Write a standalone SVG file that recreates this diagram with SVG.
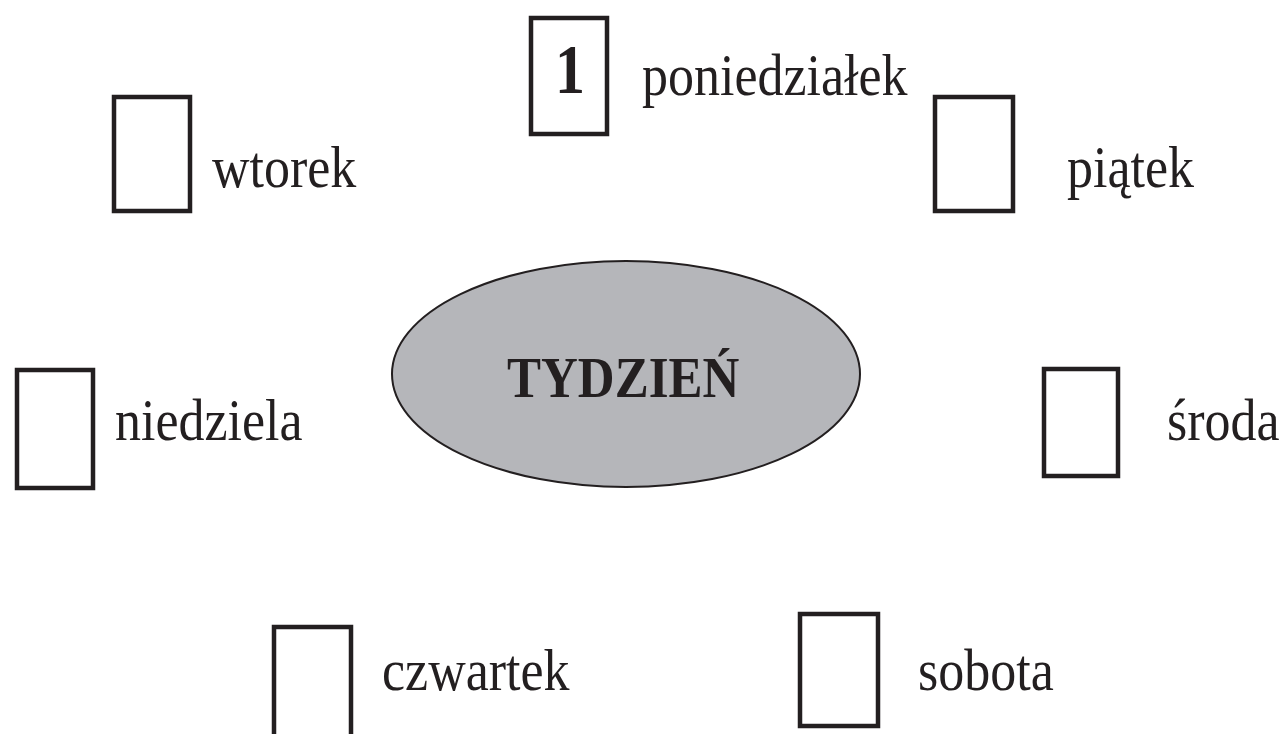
<svg xmlns="http://www.w3.org/2000/svg" width="1287" height="734" viewBox="0 0 1287 734">
<style>
.box{fill:#ffffff;stroke:#231f20;stroke-width:4.5}
.lbl{font-family:"Liberation Serif","Times New Roman",serif;font-size:52px;fill:#231f20}
.num{font-family:"Liberation Serif","Times New Roman",serif;font-size:60px;font-weight:bold;fill:#231f20;text-anchor:middle}
.title{font-family:"Liberation Serif","Times New Roman",serif;font-size:51px;font-weight:bold;fill:#231f20}
</style>
<rect width="1287" height="734" fill="#ffffff"/>
<g id="connectors"></g>
<g id="tydzien">
<ellipse cx="626" cy="374" rx="234" ry="113" fill="#b5b6ba" stroke="#231f20" stroke-width="2"/>
<text class="title" transform="translate(507,397) scale(1,1.12)">TYDZIEŃ</text>
</g>
<g id="poniedzialek">
<rect class="box" x="531" y="18" width="76" height="116"/>
<text class="num" transform="translate(570,93) scale(1,1.15)">1</text>
<text class="lbl" transform="translate(642,95) scale(1,1.15)">poniedziałek</text>
</g>
<g id="wtorek">
<rect class="box" x="114" y="97" width="76" height="114"/>
<text class="lbl" transform="translate(212,187) scale(1,1.15)">wtorek</text>
</g>
<g id="piatek">
<rect class="box" x="935" y="97" width="78" height="114"/>
<text class="lbl" transform="translate(1067,187) scale(1,1.15)">piątek</text>
</g>
<g id="niedziela">
<rect class="box" x="17" y="370" width="76" height="118"/>
<text class="lbl" transform="translate(115,440) scale(1,1.15)">niedziela</text>
</g>
<g id="sroda">
<rect class="box" x="1044" y="369" width="74" height="107"/>
<text class="lbl" transform="translate(1167,440) scale(1,1.15)">środa</text>
</g>
<g id="czwartek">
<rect class="box" x="274" y="627" width="77" height="120"/>
<text class="lbl" transform="translate(382,690) scale(1,1.15)">czwartek</text>
</g>
<g id="sobota">
<rect class="box" x="800" y="614" width="78" height="112"/>
<text class="lbl" transform="translate(918,690) scale(1,1.15)">sobota</text>
</g>
</svg>
